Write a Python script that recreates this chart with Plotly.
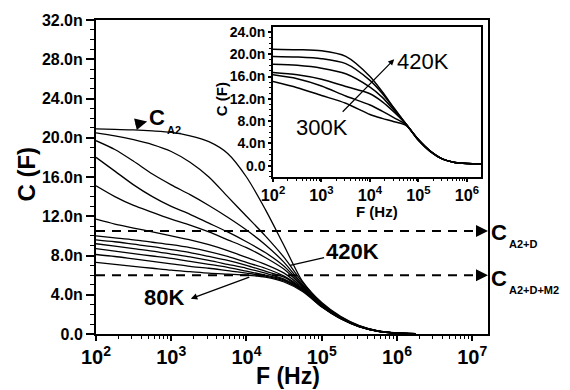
import plotly.graph_objects as go

# ---------------- data ----------------
F_MAIN = [100, 178, 316, 562, 1000, 1778, 3162, 5623, 10000, 17783, 31623, 56234,
          100000, 177828, 316228, 562341, 1000000, 1778279]

C_420K = [20.9, 20.85, 20.8, 20.7, 20.55, 20.2, 19.6, 18.4, 16.0, 12.7, 9.0, 5.3, 3.2, 1.8, 0.85, 0.32, 0.10, 0.03]
C_390K = [20.5, 20.2, 19.8, 19.3, 18.6, 17.5, 16.0, 14.0, 12.0, 10.0, 7.8, 5.2, 3.1, 1.75, 0.82, 0.31, 0.10, 0.03]
C_360K = [19.7, 18.8, 17.6, 16.3, 15.2, 14.2, 13.1, 11.9, 10.6, 9.1, 7.3, 5.0, 3.0, 1.7, 0.80, 0.30, 0.10, 0.03]
C_330K = [18.0, 16.6, 15.2, 14.0, 13.0, 12.2, 11.3, 10.4, 9.4, 8.3, 6.9, 4.9, 3.0, 1.7, 0.80, 0.30, 0.10, 0.03]
C_300K = [15.1, 14.0, 13.1, 12.4, 11.7, 11.1, 10.4, 9.6, 8.8, 7.8, 6.6, 4.8, 2.9, 1.65, 0.78, 0.29, 0.09, 0.03]
C_270K = [11.7, 11.2, 10.8, 10.4, 10.0, 9.6, 9.1, 8.5, 7.8, 7.1, 6.2, 4.7, 2.9, 1.65, 0.77, 0.29, 0.09, 0.03]
C_240K = [10.0, 9.8, 9.6, 9.35, 9.1, 8.8, 8.4, 7.9, 7.3, 6.7, 5.9, 4.6, 2.85, 1.6, 0.76, 0.28, 0.09, 0.03]
C_210K = [9.6, 9.4, 9.15, 8.9, 8.6, 8.3, 7.9, 7.5, 7.0, 6.4, 5.8, 4.5, 2.85, 1.6, 0.75, 0.28, 0.09, 0.03]
C_180K = [9.2, 8.95, 8.7, 8.45, 8.15, 7.85, 7.5, 7.1, 6.7, 6.2, 5.6, 4.5, 2.8, 1.6, 0.75, 0.28, 0.09, 0.03]
C_150K = [8.7, 8.45, 8.2, 7.95, 7.7, 7.4, 7.1, 6.8, 6.4, 6.0, 5.5, 4.4, 2.8, 1.6, 0.74, 0.28, 0.09, 0.03]
C_120K = [8.1, 7.9, 7.65, 7.4, 7.15, 6.9, 6.7, 6.45, 6.2, 5.9, 5.4, 4.4, 2.8, 1.55, 0.74, 0.27, 0.09, 0.03]
C_80K = [7.3, 7.1, 6.9, 6.7, 6.5, 6.35, 6.2, 6.1, 6.0, 5.8, 5.3, 4.3, 2.75, 1.55, 0.73, 0.27, 0.09, 0.03]
MAIN_SERIES = [C_420K, C_390K, C_360K, C_330K, C_300K, C_270K,
               C_240K, C_210K, C_180K, C_150K, C_120K, C_80K]

F_INSET = [100, 316, 1000, 3162, 10000, 17783, 31623, 56234, 100000, 177828,
           316228, 562341, 1000000, 1949845]
I_420K = [20.9, 20.8, 20.6, 19.6, 16.0, 13.3, 10.3, 7.4, 4.7, 2.6, 1.2, 0.6, 0.4, 0.35]
I_400K = [19.6, 19.5, 19.2, 18.3, 15.3, 13.0, 10.2, 7.4, 4.7, 2.6, 1.2, 0.6, 0.4, 0.35]
I_380K = [18.2, 18.0, 17.5, 16.5, 14.1, 12.3, 9.9, 7.4, 4.65, 2.6, 1.2, 0.6, 0.4, 0.35]
I_360K = [16.7, 16.3, 15.5, 14.2, 12.9, 11.5, 9.6, 7.4, 4.6, 2.55, 1.2, 0.6, 0.4, 0.35]
I_340K = [16.3, 15.6, 14.3, 12.5, 10.9, 9.8, 8.6, 7.3, 4.6, 2.55, 1.2, 0.6, 0.4, 0.35]
I_300K = [15.1, 14.0, 12.6, 11.2, 9.2, 8.5, 7.9, 7.2, 4.55, 2.5, 1.2, 0.6, 0.4, 0.35]
INSET_SERIES = [I_420K, I_400K, I_380K, I_360K, I_340K, I_300K]

Y_MAIN_TICKS = [0, 4, 8, 12, 16, 20, 24, 28, 32]
Y_MAIN_TEXT = ["0.0", "4.0n", "8.0n", "12.0n", "16.0n", "20.0n", "24.0n", "28.0n", "32.0n"]
Y_INSET_TICKS = [0, 4, 8, 12, 16, 20, 24]
Y_INSET_TEXT = ["0.0", "4.0n", "8.0n", "12.0n", "16.0n", "20.0n", "24.0n"]
LEVELS = [10.5, 6.0]  # C_A2+D, C_A2+D+M2

FONT = "Arial, 'Liberation Sans', sans-serif"

# ---------------- figure ----------------
fig = go.Figure()
for ys in MAIN_SERIES:
    fig.add_trace(go.Scatter(x=F_MAIN, y=ys, mode="lines", xaxis="x", yaxis="y",
                             line=dict(color="black", width=1.3, shape="spline", smoothing=0.8),
                             showlegend=False, hoverinfo="skip"))
for ys in INSET_SERIES:
    fig.add_trace(go.Scatter(x=F_INSET, y=ys, mode="lines", xaxis="x2", yaxis="y2",
                             line=dict(color="black", width=1.5, shape="spline", smoothing=0.8),
                             showlegend=False, hoverinfo="skip"))

L, R, T, B = 96, 488, 13, 334
W, H = R - L, B - T


def pp(xp, yp):
    return (xp - L) / W, (B - yp) / H


axis_common = dict(showline=True, linecolor="black", linewidth=2, mirror=True,
                   showgrid=False, zeroline=False, ticks="outside", tickcolor="black",
                   tickwidth=1.5)

fig.update_layout(
    width=570, height=390, autosize=False,
    margin=dict(l=L, r=570 - R, t=T, b=390 - B),
    paper_bgcolor="white", plot_bgcolor="white",
    font=dict(family=FONT, color="black"),
    xaxis=dict(type="log", range=[2, 7.21], dtick=1, exponentformat="power",
               ticklen=5, tickfont=dict(size=16, weight="bold"),
               minor=dict(ticks="outside", ticklen=3, tickwidth=1.2, tickcolor="black", dtick="D1"),
               domain=[0, 1], anchor="y", **axis_common),
    yaxis=dict(range=[0, 32], tickvals=Y_MAIN_TICKS, ticktext=Y_MAIN_TEXT,
               ticklen=8, tickfont=dict(size=16, weight="bold"),
               minor=dict(ticks="outside", ticklen=4, tickwidth=1.2, tickcolor="black", dtick=1),
               domain=[0, 1], anchor="x", **axis_common),
    xaxis2=dict(type="log", range=[2, 6.29], dtick=1, exponentformat="power",
                ticklen=3, tickfont=dict(size=13, weight="bold"),
                minor=dict(ticks="outside", ticklen=2, tickwidth=1, tickcolor="black", dtick="D1"),
                domain=[(273 - L) / W, (481 - L) / W], anchor="y2", **axis_common),
    yaxis2=dict(range=[-2.1, 24.9], tickvals=Y_INSET_TICKS, ticktext=Y_INSET_TEXT,
                ticklen=3, tickfont=dict(size=14, weight="bold"),
                minor=dict(ticks="outside", ticklen=2, tickwidth=1, tickcolor="black", dtick=1),
                domain=[(B - 174) / H, (B - 20) / H], anchor="x2", **axis_common),
)
fig.update_xaxes(selector=dict(anchor="y2"), linewidth=1.5)
fig.update_yaxes(selector=dict(anchor="x2"), linewidth=1.5)

shapes = []
# dashed C_A2 pointer
shapes.append(dict(type="line", xref="x", yref="y", x0=2.0, y0=20.95, x1=2.56, y1=21.45,
                   line=dict(color="black", width=2, dash="7px,6px")))
for lv in LEVELS:
    shapes.append(dict(type="line", xref="x domain", yref="y", x0=0, x1=0.975, y0=lv, y1=lv,
                       line=dict(color="black", width=2, dash="9px,7px")))
# dotted ellipse in the inset
shapes.append(dict(type="circle", xref="x2", yref="y2", x0=2.08, x1=2.36, y0=13.5, y1=21.9,
                   line=dict(color="gray", width=1, dash="dot")))
fig.update_layout(shapes=shapes)

ann = []


def text(xp, yp, s, size, bold=True, angle=0):
    x, y = pp(xp, yp)
    ann.append(dict(xref="paper", yref="paper", x=x, y=y, text=s, showarrow=False,
                    textangle=angle, xanchor="center", yanchor="middle",
                    font=dict(size=size, family=FONT, color="black",
                              weight="bold" if bold else "normal")))


# axis titles
text(27, 171, "C (F)", 24, angle=-90)
text(288, 377, "F (Hz)", 23)
text(221, 94, "C (F)", 15, angle=-90)
text(377, 209, "F (Hz)", 15)

# C labels with subscripts
text(157, 113, "C", 22)
text(174, 125, "A2", 11)
text(499, 230, "C", 22)
text(523, 242, "A2+D", 11)
text(499, 277, "C", 22)
text(534, 289, "A2+D+M2", 11)

# arrowheads
ann.append(dict(xref="x", yref="y", x=2.68, y=21.65, ax=-13, ay=3, text="", showarrow=True,
                arrowhead=2, arrowsize=1.2, arrowwidth=2, arrowcolor="black"))
for lv in LEVELS:
    ann.append(dict(xref="x domain", yref="y", x=1.0, y=lv, ax=-12, ay=0, text="",
                    showarrow=True, arrowhead=2, arrowsize=1.2, arrowwidth=2, arrowcolor="black"))

# main temperature labels
ann.append(dict(xref="x", yref="y", x=4.58, y=7.0, ax=62, ay=-14, text="420K",
                showarrow=True, arrowhead=0, arrowwidth=1.3, arrowcolor="black",
                font=dict(size=22, family=FONT, weight="bold", color="black")))
text(164, 297, "80K", 22)
ann.append(dict(xref="x", yref="y", x=3.26, y=3.6, ax=60, ay=-22, text="", showarrow=True,
                arrowhead=2, arrowsize=1, arrowwidth=1.3, arrowcolor="black"))

# inset labels
ann.append(dict(xref="x2", yref="y2", x=4.5, y=19.1, ax=-53, ay=54, text="", showarrow=True,
                arrowhead=2, arrowsize=1, arrowwidth=1.2, arrowcolor="black"))
text(423, 55, "420K", 22, bold=False)
text(322, 123, "300K", 22, bold=False)

fig.update_layout(annotations=ann)

fig.write_html("out.html", config={"displayModeBar": False},
               post_script="document.body.style.margin='0';")
